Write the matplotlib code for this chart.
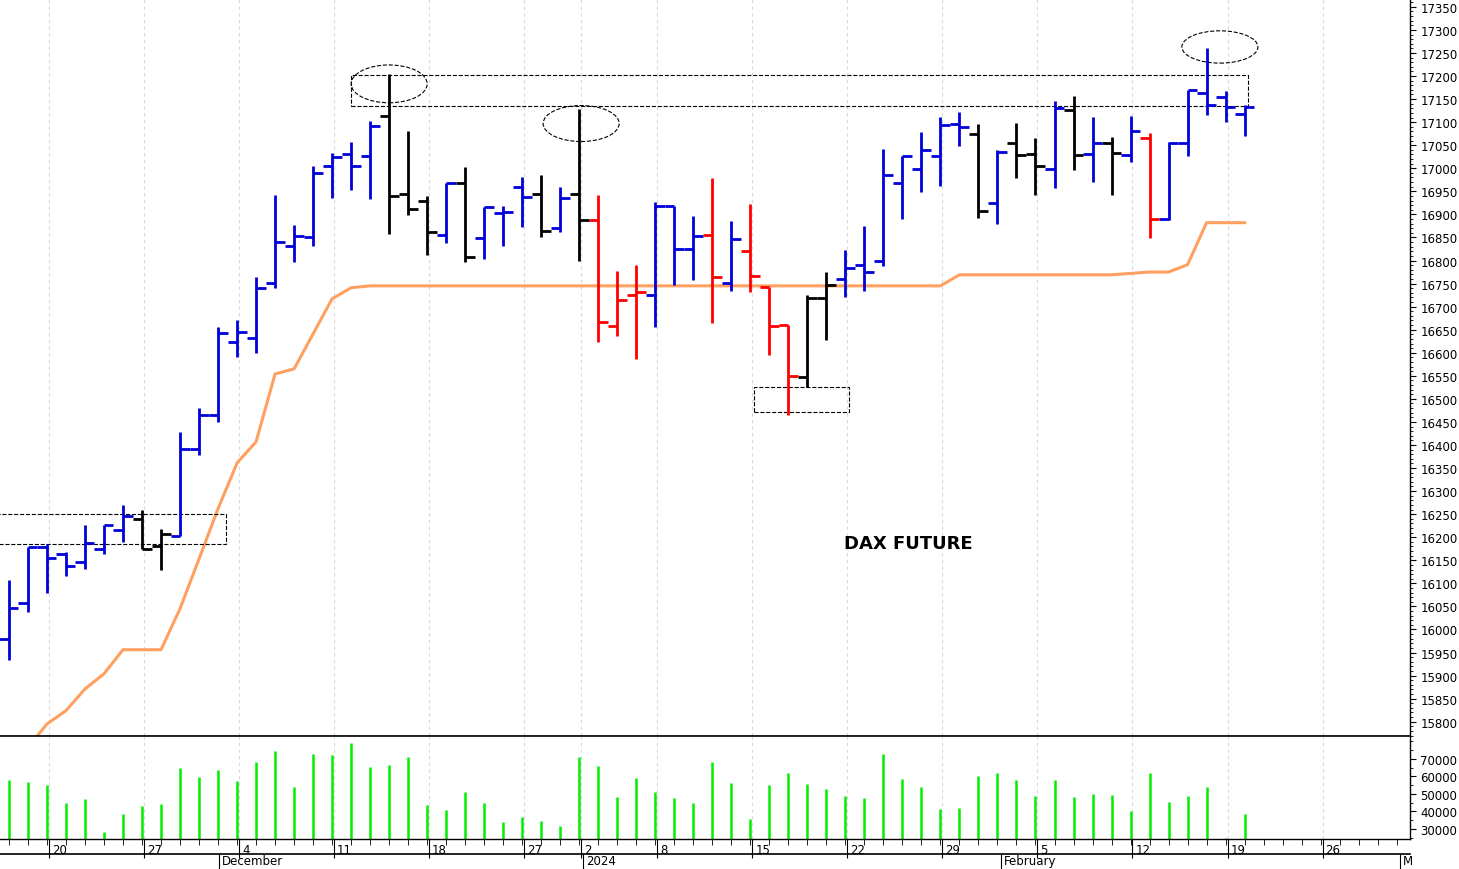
import numpy as np
import matplotlib.pyplot as plt
import matplotlib.transforms as mtrans
from matplotlib.patches import Ellipse, Rectangle

# daily OHLC, 16 Nov 2023 .. 20 Feb 2024 (trading days)
opens = [15980, 16058, 16179, 16164, 16146, 16175, 16216, 16240, 16181, 16203,
         16392, 16465, 16624, 16632, 16752, 16832, 16851, 17005, 17031, 17027,
         17114, 16945, 16929, 16855, 16968, 16849, 16903, 16960, 16945, 16871,
         16945, 16888, 16658, 16726, 16726, 16918, 16825, 16856, 16752, 16821,
         16743, 16661, 16548, 16719, 16760, 16791, 16799, 16968, 16999, 17027,
         17096, 17075, 16925, 17055, 17031, 16999, 17127, 17031, 17055, 17029,
         17066, 16890, 17055, 17164, 17155, 17118]
highs = [16108, 16179, 16185, 16168, 16227, 16227, 16270, 16259, 16218, 16429,
         16481, 16656, 16671, 16765, 16942, 16877, 17005, 17033, 17057, 17103,
         17205, 17081, 16940, 16968, 17003, 16916, 16918, 16981, 16986, 16960,
         17129, 16942, 16778, 16791, 16927, 16918, 16897, 16979, 16886, 16923,
         16743, 16661, 16726, 16776, 16823, 16875, 17042, 17027, 17079, 17112,
         17122, 17096, 17040, 17099, 17066, 17146, 17157, 17112, 17068, 17114,
         17077, 17057, 17170, 17261, 17168, 17138]
lows = [15934, 16038, 16080, 16115, 16132, 16164, 16190, 16175, 16128, 16203,
        16379, 16450, 16591, 16600, 16741, 16797, 16832, 16936, 16953, 16934,
        16858, 16899, 16812, 16838, 16797, 16804, 16832, 16873, 16851, 16862,
        16799, 16624, 16637, 16587, 16656, 16747, 16758, 16665, 16734, 16732,
        16596, 16465, 16526, 16628, 16721, 16734, 16789, 16890, 16949, 16962,
        17049, 16893, 16880, 16979, 16942, 16958, 16997, 16970, 16942, 17014,
        16849, 16888, 17027, 17116, 17101, 17070]
closes = [16047, 16179, 16154, 16138, 16188, 16227, 16247, 16175, 16207, 16392,
          16465, 16643, 16645, 16741, 16841, 16854, 16990, 17025, 17005, 17092,
          16940, 16912, 16862, 16968, 16808, 16916, 16905, 16938, 16864, 16936,
          16888, 16667, 16715, 16732, 16918, 16825, 16854, 16765, 16847, 16767,
          16658, 16550, 16719, 16747, 16784, 16776, 16986, 17027, 17040, 17094,
          17090, 16908, 17036, 17029, 17005, 17131, 17029, 17055, 17033, 17081,
          16890, 17055, 17170, 17138, 17133, 17133]
bar_colors = (['b'] * 7 + ['k'] * 2 + ['b'] * 11 + ['k'] * 3 + ['b', 'k'] + ['b'] * 3
              + ['k', 'b', 'k'] + ['r'] * 3 + ['b'] * 3 + ['r', 'b'] + ['r'] * 3
              + ['k'] * 2 + ['b'] * 7 + ['k', 'b', 'k', 'k', 'b', 'k', 'b', 'k', 'b', 'r']
              + ['b'] * 5)
volume = [58000, 56900, 55000, 44900, 47100, 28300, 38600, 43100, 44300, 64900,
          59700, 63700, 57400, 68300, 74600, 54000, 72900, 72300, 79100, 65400,
          66600, 71100, 43700, 40900, 51100, 44900, 34000, 36900, 34600, 31700,
          71100, 66000, 48300, 59100, 51100, 47700, 44900, 68000, 56300, 35700,
          55000, 62000, 55700, 52900, 48900, 47700, 72900, 58600, 54000, 41400,
          42000, 60300, 62000, 58000, 48900, 58000, 48300, 50000, 49400, 40300,
          62000, 45400, 48900, 54000, 25000, 38600]
trend = [15700, 15745, 15795, 15824, 15871, 15904, 15956, 15956, 15956, 16045,
         16153, 16262, 16361, 16407, 16554, 16565, 16641, 16717, 16741, 16745] \
    + [16745] * 30 + [16769] * 9 + [16772, 16775, 16775, 16791, 16882, 16882, 16882]

day_ticks = [2, 7, 12, 17, 22, 27, 30, 34, 39, 44, 49, 54, 59, 64, 69]
day_labels = ['20', '27', '4', '11', '18', '27', '2', '8', '15', '22', '29', '5', '12', '19', '26']
month_ticks = [11.05, 30.2, 52.2, 73.2]
month_labels = ['December', '2024', 'February', 'M']

cmap = {'b': '#0000d8', 'r': '#ff0000', 'k': '#000000'}
cols = [cmap[c] for c in bar_colors]
idx = np.arange(len(opens))

fig = plt.figure(figsize=(14.59, 8.7), dpi=100)
ax = fig.add_axes([0, 1 - 737 / 870, 1410 / 1459, 737 / 870])
axv = fig.add_axes([0, 1 - 840 / 870, 1410 / 1459, 103 / 870], sharex=ax)

for a in (ax, axv):
    for t in day_ticks:
        a.axvline(t + 0.1, color='#d8d8d8', lw=0.8, ls=(0, (3, 3)), zorder=0)

ax.vlines(idx, lows, highs, colors=cols, lw=2.0)
ax.hlines(opens, idx - 0.5, idx, colors=cols, lw=2.0)
ax.hlines(closes, idx, idx + 0.5, colors=cols, lw=2.0)
ax.plot(idx, trend, color='#ffa060', lw=2.2, zorder=1)

# dashed annotations
ax.add_patch(Rectangle((-0.6, 16185), 12.0, 65, fill=False, ls='--', lw=0.8))
ax.add_patch(Rectangle((18.0, 17135), 47.2, 68, fill=False, ls='--', lw=0.8))
ax.add_patch(Rectangle((39.2, 16472), 5.0, 54, fill=False, ls='--', lw=0.8))
for cx, cy, w, h in [(20, 17183, 4.0, 82), (30.1, 17097, 4.0, 78), (63.7, 17263, 4.0, 70)]:
    ax.add_patch(Ellipse((cx, cy), w, h, fill=False, ls='--', lw=0.8))
ax.text(47.3, 16187, 'DAX FUTURE', fontsize=13, fontweight='bold', ha='center', va='center')

ax.set_xlim(-0.47, 73.7)
ax.set_ylim(15769, 17367)
ax.yaxis.tick_right()
ax.set_yticks(np.arange(15800, 17351, 50))
ax.set_yticks(np.arange(15770, 17361, 10), minor=True)
ax.tick_params(axis='y', labelsize=8.5, length=4, direction='out')
ax.tick_params(axis='y', which='minor', length=2)
ax.tick_params(axis='x', bottom=False, labelbottom=False)

axv.vlines(idx, 0, volume, colors='#00ee00', lw=1.8)
axv.set_ylim(24300, 83100)
axv.yaxis.tick_right()
axv.set_yticks(np.arange(30000, 70001, 10000))
axv.set_yticks(np.arange(25000, 80001, 5000), minor=True)
axv.tick_params(axis='y', labelsize=8.5, length=4)
axv.tick_params(axis='y', which='minor', length=2)
axv.set_xticks([t + 0.1 for t in day_ticks])
axv.set_xticklabels(day_labels)
axv.set_xticks(np.arange(0, 74), minor=True)
axv.tick_params(axis='x', which='major', length=14, labelsize=8.5, pad=-11)
axv.tick_params(axis='x', which='minor', length=4)
shift = mtrans.ScaledTranslation(0.03, 0, fig.dpi_scale_trans)
for lab in axv.xaxis.get_majorticklabels():
    lab.set_horizontalalignment('left')
    lab.set_transform(lab.get_transform() + shift)

for a in (ax, axv):
    for s in ('left', 'top'):
        a.spines[s].set_visible(False)
    a.spines['right'].set_linewidth(1.0)
    a.spines['bottom'].set_linewidth(1.0)
    a.spines['bottom'].set_color('black')

fig.add_artist(plt.Line2D([0, 1410 / 1459], [1 - 737 / 870] * 2, color='black', lw=1.2))
fig.add_artist(plt.Line2D([0, 1410 / 1459], [1 - 855 / 870] * 2, color='black', lw=1.2))
for t, lab in zip(month_ticks, month_labels):
    xf = (9 + 19 * t) / 1459
    fig.add_artist(plt.Line2D([xf, xf], [0, 1 - 855 / 870], color='black', lw=0.8))
    fig.text(xf + 0.002, 0.002, lab, fontsize=8.5, ha='left', va='bottom')

fig.savefig('out.png', dpi=100)
